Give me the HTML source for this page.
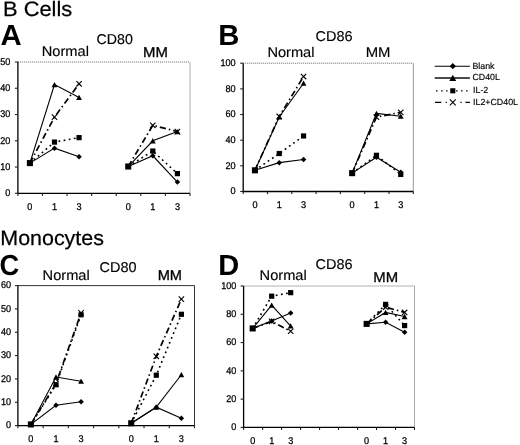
<!DOCTYPE html>
<html><head><meta charset="utf-8"><style>
html,body{margin:0;padding:0;background:#fff;}
body{width:520px;height:445px;overflow:hidden;}
svg{display:block;font-family:"Liberation Sans", sans-serif;fill:#000;text-rendering:geometricPrecision;will-change:transform;}
text{fill:#000;}
</style></head><body>
<svg width="520" height="445" viewBox="0 0 520 445">
<line x1="17.9" y1="62" x2="190" y2="62" stroke="#666" stroke-width="1" stroke-dasharray="1 1"/>
<line x1="190" y1="62" x2="190" y2="193.3" stroke="#aaa" stroke-width="1"/>
<path d="M17.9 62V193.3H190" stroke="#000" stroke-width="1.3" fill="none"/>
<line x1="14.9" y1="193.3" x2="17.9" y2="193.3" stroke="#222" stroke-width="1.1"/>
<text x="0" y="0" transform="translate(10.3 196.1) scale(0.93 1)" text-anchor="end" font-size="9.8" stroke="#000" stroke-width="0.28">0</text>
<line x1="14.9" y1="167.04" x2="17.9" y2="167.04" stroke="#222" stroke-width="1.1"/>
<text x="0" y="0" transform="translate(10.3 169.84) scale(0.93 1)" text-anchor="end" font-size="9.8" stroke="#000" stroke-width="0.28">10</text>
<line x1="14.9" y1="140.78" x2="17.9" y2="140.78" stroke="#222" stroke-width="1.1"/>
<text x="0" y="0" transform="translate(10.3 143.58) scale(0.93 1)" text-anchor="end" font-size="9.8" stroke="#000" stroke-width="0.28">20</text>
<line x1="14.9" y1="114.52" x2="17.9" y2="114.52" stroke="#222" stroke-width="1.1"/>
<text x="0" y="0" transform="translate(10.3 117.32) scale(0.93 1)" text-anchor="end" font-size="9.8" stroke="#000" stroke-width="0.28">30</text>
<line x1="14.9" y1="88.26" x2="17.9" y2="88.26" stroke="#222" stroke-width="1.1"/>
<text x="0" y="0" transform="translate(10.3 91.06) scale(0.93 1)" text-anchor="end" font-size="9.8" stroke="#000" stroke-width="0.28">40</text>
<line x1="14.9" y1="62" x2="17.9" y2="62" stroke="#222" stroke-width="1.1"/>
<text x="0" y="0" transform="translate(10.3 64.8) scale(0.93 1)" text-anchor="end" font-size="9.8" stroke="#000" stroke-width="0.28">50</text>
<line x1="17.9" y1="193.3" x2="17.9" y2="195.9" stroke="#222" stroke-width="1.1"/>
<line x1="42.49" y1="193.3" x2="42.49" y2="195.9" stroke="#222" stroke-width="1.1"/>
<line x1="67.07" y1="193.3" x2="67.07" y2="195.9" stroke="#222" stroke-width="1.1"/>
<line x1="91.66" y1="193.3" x2="91.66" y2="195.9" stroke="#222" stroke-width="1.1"/>
<line x1="116.24" y1="193.3" x2="116.24" y2="195.9" stroke="#222" stroke-width="1.1"/>
<line x1="140.83" y1="193.3" x2="140.83" y2="195.9" stroke="#222" stroke-width="1.1"/>
<line x1="165.41" y1="193.3" x2="165.41" y2="195.9" stroke="#222" stroke-width="1.1"/>
<line x1="190" y1="193.3" x2="190" y2="195.9" stroke="#222" stroke-width="1.1"/>
<text x="0" y="0" transform="translate(29.89 209.8) scale(0.93 1)" text-anchor="middle" font-size="9.8" stroke="#000" stroke-width="0.28">0</text>
<text x="0" y="0" transform="translate(54.48 209.8) scale(0.93 1)" text-anchor="middle" font-size="9.8" stroke="#000" stroke-width="0.28">1</text>
<text x="0" y="0" transform="translate(79.06 209.8) scale(0.93 1)" text-anchor="middle" font-size="9.8" stroke="#000" stroke-width="0.28">3</text>
<text x="0" y="0" transform="translate(128.24 209.8) scale(0.93 1)" text-anchor="middle" font-size="9.8" stroke="#000" stroke-width="0.28">0</text>
<text x="0" y="0" transform="translate(152.82 209.8) scale(0.93 1)" text-anchor="middle" font-size="9.8" stroke="#000" stroke-width="0.28">1</text>
<text x="0" y="0" transform="translate(177.41 209.8) scale(0.93 1)" text-anchor="middle" font-size="9.8" stroke="#000" stroke-width="0.28">3</text>
<path d="M29.89 163.1 L54.48 142.09 L79.06 137.63" stroke="#000" stroke-width="1.6" stroke-dasharray="1.8 3.4" fill="none"/>
<path d="M128.24 166.51 L152.82 151.02 L177.41 173.61" stroke="#000" stroke-width="1.6" stroke-dasharray="1.8 3.4" fill="none"/>
<path d="M29.89 163.1 L54.48 117.15 L79.06 83.8" stroke="#000" stroke-width="1.7" stroke-dasharray="6.3 3 1.5 3" fill="none"/>
<path d="M128.24 166.51 L152.82 125.29 L177.41 131.59" stroke="#000" stroke-width="1.7" stroke-dasharray="6.3 3 1.5 3" fill="none"/>
<path d="M29.89 163.1 L54.48 84.58 L79.06 97.45" stroke="#000" stroke-width="1.1" fill="none"/>
<path d="M128.24 166.51 L152.82 140.78 L177.41 131.59" stroke="#000" stroke-width="1.1" fill="none"/>
<path d="M29.89 163.1 L54.48 148.13 L79.06 156.8" stroke="#000" stroke-width="1.1" fill="none"/>
<path d="M128.24 166.51 L152.82 155.75 L177.41 182.01" stroke="#000" stroke-width="1.1" fill="none"/>
<path d="M51.78 114.45L57.18 119.85M51.78 119.85L57.18 114.45" stroke="#000" stroke-width="1.1" fill="none"/>
<path d="M76.36 81.1L81.76 86.5M76.36 86.5L81.76 81.1" stroke="#000" stroke-width="1.1" fill="none"/>
<path d="M150.12 122.59L155.52 127.99M150.12 127.99L155.52 122.59" stroke="#000" stroke-width="1.1" fill="none"/>
<path d="M174.71 128.89L180.11 134.29M174.71 134.29L180.11 128.89" stroke="#000" stroke-width="1.1" fill="none"/>
<path d="M54.48 145.38L57.23 148.13L54.48 150.88L51.73 148.13Z" fill="#000"/>
<path d="M79.06 154.05L81.81 156.8L79.06 159.55L76.31 156.8Z" fill="#000"/>
<path d="M152.82 153L155.57 155.75L152.82 158.5L150.07 155.75Z" fill="#000"/>
<path d="M177.41 179.26L180.16 182.01L177.41 184.76L174.66 182.01Z" fill="#000"/>
<path d="M54.48 81.88L57.38 87.18L51.58 87.18Z" fill="#000"/>
<path d="M79.06 94.75L81.96 100.05L76.16 100.05Z" fill="#000"/>
<path d="M152.82 138.08L155.72 143.38L149.92 143.38Z" fill="#000"/>
<path d="M177.41 128.89L180.31 134.19L174.51 134.19Z" fill="#000"/>
<rect x="26.85" y="160.06" width="6.08" height="6.08" fill="#000"/>
<rect x="51.88" y="139.49" width="5.2" height="5.2" fill="#000"/>
<rect x="76.46" y="135.03" width="5.2" height="5.2" fill="#000"/>
<rect x="125.19" y="163.47" width="6.08" height="6.08" fill="#000"/>
<rect x="150.22" y="148.42" width="5.2" height="5.2" fill="#000"/>
<rect x="174.81" y="171.01" width="5.2" height="5.2" fill="#000"/>
<line x1="243.2" y1="63.2" x2="413.3" y2="63.2" stroke="#666" stroke-width="1" stroke-dasharray="1 1"/>
<line x1="413.3" y1="63.2" x2="413.3" y2="191.5" stroke="#999" stroke-width="1"/>
<path d="M243.2 63.2V191.5H413.3" stroke="#000" stroke-width="1.3" fill="none"/>
<line x1="240.2" y1="191.5" x2="243.2" y2="191.5" stroke="#222" stroke-width="1.1"/>
<text x="0" y="0" transform="translate(235.6 194.3) scale(0.93 1)" text-anchor="end" font-size="9.8" stroke="#000" stroke-width="0.28">0</text>
<line x1="240.2" y1="165.84" x2="243.2" y2="165.84" stroke="#222" stroke-width="1.1"/>
<text x="0" y="0" transform="translate(235.6 168.64) scale(0.93 1)" text-anchor="end" font-size="9.8" stroke="#000" stroke-width="0.28">20</text>
<line x1="240.2" y1="140.18" x2="243.2" y2="140.18" stroke="#222" stroke-width="1.1"/>
<text x="0" y="0" transform="translate(235.6 142.98) scale(0.93 1)" text-anchor="end" font-size="9.8" stroke="#000" stroke-width="0.28">40</text>
<line x1="240.2" y1="114.52" x2="243.2" y2="114.52" stroke="#222" stroke-width="1.1"/>
<text x="0" y="0" transform="translate(235.6 117.32) scale(0.93 1)" text-anchor="end" font-size="9.8" stroke="#000" stroke-width="0.28">60</text>
<line x1="240.2" y1="88.86" x2="243.2" y2="88.86" stroke="#222" stroke-width="1.1"/>
<text x="0" y="0" transform="translate(235.6 91.66) scale(0.93 1)" text-anchor="end" font-size="9.8" stroke="#000" stroke-width="0.28">80</text>
<line x1="240.2" y1="63.2" x2="243.2" y2="63.2" stroke="#222" stroke-width="1.1"/>
<text x="0" y="0" transform="translate(235.6 66) scale(0.93 1)" text-anchor="end" font-size="9.8" stroke="#000" stroke-width="0.28">100</text>
<line x1="243.2" y1="191.5" x2="243.2" y2="194.1" stroke="#222" stroke-width="1.1"/>
<line x1="267.5" y1="191.5" x2="267.5" y2="194.1" stroke="#222" stroke-width="1.1"/>
<line x1="291.8" y1="191.5" x2="291.8" y2="194.1" stroke="#222" stroke-width="1.1"/>
<line x1="316.1" y1="191.5" x2="316.1" y2="194.1" stroke="#222" stroke-width="1.1"/>
<line x1="340.4" y1="191.5" x2="340.4" y2="194.1" stroke="#222" stroke-width="1.1"/>
<line x1="364.7" y1="191.5" x2="364.7" y2="194.1" stroke="#222" stroke-width="1.1"/>
<line x1="389" y1="191.5" x2="389" y2="194.1" stroke="#222" stroke-width="1.1"/>
<line x1="413.3" y1="191.5" x2="413.3" y2="194.1" stroke="#222" stroke-width="1.1"/>
<text x="0" y="0" transform="translate(254.95 207.8) scale(0.93 1)" text-anchor="middle" font-size="9.8" stroke="#000" stroke-width="0.28">0</text>
<text x="0" y="0" transform="translate(279.25 207.8) scale(0.93 1)" text-anchor="middle" font-size="9.8" stroke="#000" stroke-width="0.28">1</text>
<text x="0" y="0" transform="translate(303.55 207.8) scale(0.93 1)" text-anchor="middle" font-size="9.8" stroke="#000" stroke-width="0.28">3</text>
<text x="0" y="0" transform="translate(352.15 207.8) scale(0.93 1)" text-anchor="middle" font-size="9.8" stroke="#000" stroke-width="0.28">0</text>
<text x="0" y="0" transform="translate(376.45 207.8) scale(0.93 1)" text-anchor="middle" font-size="9.8" stroke="#000" stroke-width="0.28">1</text>
<text x="0" y="0" transform="translate(400.75 207.8) scale(0.93 1)" text-anchor="middle" font-size="9.8" stroke="#000" stroke-width="0.28">3</text>
<path d="M254.95 170.33 L279.25 153.52 L303.55 135.95" stroke="#000" stroke-width="1.6" stroke-dasharray="1.8 3.4" fill="none"/>
<path d="M352.15 173.15 L376.45 155.32 L400.75 174.44" stroke="#000" stroke-width="1.6" stroke-dasharray="1.8 3.4" fill="none"/>
<path d="M254.95 170.33 L279.25 116.44 L303.55 76.54" stroke="#000" stroke-width="1.7" stroke-dasharray="6.3 3 1.5 3" fill="none"/>
<path d="M352.15 173.15 L376.45 117.09 L400.75 112.34" stroke="#000" stroke-width="1.7" stroke-dasharray="6.3 3 1.5 3" fill="none"/>
<path d="M254.95 170.33 L279.25 116.96 L303.55 83.21" stroke="#000" stroke-width="1.1" fill="none"/>
<path d="M352.15 173.15 L376.45 113.37 L400.75 116.19" stroke="#000" stroke-width="1.1" fill="none"/>
<path d="M254.95 170.33 L279.25 162.63 L303.55 159.43" stroke="#000" stroke-width="1.1" fill="none"/>
<path d="M352.15 173.15 L376.45 157.24 L400.75 172.25" stroke="#000" stroke-width="1.1" fill="none"/>
<path d="M276.55 113.74L281.95 119.14M276.55 119.14L281.95 113.74" stroke="#000" stroke-width="1.1" fill="none"/>
<path d="M300.85 73.84L306.25 79.24M300.85 79.24L306.25 73.84" stroke="#000" stroke-width="1.1" fill="none"/>
<path d="M373.75 114.39L379.15 119.79M373.75 119.79L379.15 114.39" stroke="#000" stroke-width="1.1" fill="none"/>
<path d="M398.05 109.64L403.45 115.04M398.05 115.04L403.45 109.64" stroke="#000" stroke-width="1.1" fill="none"/>
<path d="M279.25 159.88L282 162.63L279.25 165.38L276.5 162.63Z" fill="#000"/>
<path d="M303.55 156.68L306.3 159.43L303.55 162.18L300.8 159.43Z" fill="#000"/>
<path d="M376.45 154.49L379.2 157.24L376.45 159.99L373.7 157.24Z" fill="#000"/>
<path d="M400.75 169.5L403.5 172.25L400.75 175L398 172.25Z" fill="#000"/>
<path d="M279.25 114.26L282.15 119.56L276.35 119.56Z" fill="#000"/>
<path d="M303.55 80.51L306.45 85.81L300.65 85.81Z" fill="#000"/>
<path d="M376.45 110.67L379.35 115.97L373.55 115.97Z" fill="#000"/>
<path d="M400.75 113.49L403.65 118.79L397.85 118.79Z" fill="#000"/>
<rect x="251.91" y="167.29" width="6.08" height="6.08" fill="#000"/>
<rect x="276.65" y="150.92" width="5.2" height="5.2" fill="#000"/>
<rect x="300.95" y="133.35" width="5.2" height="5.2" fill="#000"/>
<rect x="349.11" y="170.11" width="6.08" height="6.08" fill="#000"/>
<rect x="373.85" y="152.72" width="5.2" height="5.2" fill="#000"/>
<rect x="398.15" y="171.84" width="5.2" height="5.2" fill="#000"/>
<line x1="17.9" y1="285.6" x2="194.5" y2="285.6" stroke="#333" stroke-width="1"/>
<line x1="194.5" y1="285.6" x2="194.5" y2="425.6" stroke="#333" stroke-width="1"/>
<path d="M17.9 285.6V425.6H194.5" stroke="#000" stroke-width="1.3" fill="none"/>
<line x1="14.9" y1="425.6" x2="17.9" y2="425.6" stroke="#222" stroke-width="1.1"/>
<text x="0" y="0" transform="translate(11.1 428.4) scale(0.93 1)" text-anchor="end" font-size="9.8" stroke="#000" stroke-width="0.28">0</text>
<line x1="14.9" y1="402.27" x2="17.9" y2="402.27" stroke="#222" stroke-width="1.1"/>
<text x="0" y="0" transform="translate(11.1 405.07) scale(0.93 1)" text-anchor="end" font-size="9.8" stroke="#000" stroke-width="0.28">10</text>
<line x1="14.9" y1="378.93" x2="17.9" y2="378.93" stroke="#222" stroke-width="1.1"/>
<text x="0" y="0" transform="translate(11.1 381.73) scale(0.93 1)" text-anchor="end" font-size="9.8" stroke="#000" stroke-width="0.28">20</text>
<line x1="14.9" y1="355.6" x2="17.9" y2="355.6" stroke="#222" stroke-width="1.1"/>
<text x="0" y="0" transform="translate(11.1 358.4) scale(0.93 1)" text-anchor="end" font-size="9.8" stroke="#000" stroke-width="0.28">30</text>
<line x1="14.9" y1="332.27" x2="17.9" y2="332.27" stroke="#222" stroke-width="1.1"/>
<text x="0" y="0" transform="translate(11.1 335.07) scale(0.93 1)" text-anchor="end" font-size="9.8" stroke="#000" stroke-width="0.28">40</text>
<line x1="14.9" y1="308.93" x2="17.9" y2="308.93" stroke="#222" stroke-width="1.1"/>
<text x="0" y="0" transform="translate(11.1 311.73) scale(0.93 1)" text-anchor="end" font-size="9.8" stroke="#000" stroke-width="0.28">50</text>
<line x1="14.9" y1="285.6" x2="17.9" y2="285.6" stroke="#222" stroke-width="1.1"/>
<text x="0" y="0" transform="translate(11.1 288.4) scale(0.93 1)" text-anchor="end" font-size="9.8" stroke="#000" stroke-width="0.28">60</text>
<line x1="17.9" y1="425.6" x2="17.9" y2="428.2" stroke="#222" stroke-width="1.1"/>
<line x1="43.13" y1="425.6" x2="43.13" y2="428.2" stroke="#222" stroke-width="1.1"/>
<line x1="68.36" y1="425.6" x2="68.36" y2="428.2" stroke="#222" stroke-width="1.1"/>
<line x1="93.59" y1="425.6" x2="93.59" y2="428.2" stroke="#222" stroke-width="1.1"/>
<line x1="118.81" y1="425.6" x2="118.81" y2="428.2" stroke="#222" stroke-width="1.1"/>
<line x1="144.04" y1="425.6" x2="144.04" y2="428.2" stroke="#222" stroke-width="1.1"/>
<line x1="169.27" y1="425.6" x2="169.27" y2="428.2" stroke="#222" stroke-width="1.1"/>
<line x1="194.5" y1="425.6" x2="194.5" y2="428.2" stroke="#222" stroke-width="1.1"/>
<text x="0" y="0" transform="translate(30.9 442) scale(0.93 1)" text-anchor="middle" font-size="9.8" stroke="#000" stroke-width="0.28">0</text>
<text x="0" y="0" transform="translate(55.98 442) scale(0.93 1)" text-anchor="middle" font-size="9.8" stroke="#000" stroke-width="0.28">1</text>
<text x="0" y="0" transform="translate(81.06 442) scale(0.93 1)" text-anchor="middle" font-size="9.8" stroke="#000" stroke-width="0.28">3</text>
<text x="0" y="0" transform="translate(131.22 442) scale(0.93 1)" text-anchor="middle" font-size="9.8" stroke="#000" stroke-width="0.28">0</text>
<text x="0" y="0" transform="translate(156.3 442) scale(0.93 1)" text-anchor="middle" font-size="9.8" stroke="#000" stroke-width="0.28">1</text>
<text x="0" y="0" transform="translate(181.38 442) scale(0.93 1)" text-anchor="middle" font-size="9.8" stroke="#000" stroke-width="0.28">3</text>
<path d="M30.9 424.43 L55.98 384.77 L81.06 314.77" stroke="#000" stroke-width="1.6" stroke-dasharray="1.8 3.4" fill="none"/>
<path d="M131.22 423.27 L156.3 375.2 L181.38 314.3" stroke="#000" stroke-width="1.6" stroke-dasharray="1.8 3.4" fill="none"/>
<path d="M30.9 424.43 L55.98 383.6 L81.06 312.9" stroke="#000" stroke-width="1.7" stroke-dasharray="6.3 3 1.5 3" fill="none"/>
<path d="M131.22 423.27 L156.3 356.3 L181.38 299.13" stroke="#000" stroke-width="1.7" stroke-dasharray="6.3 3 1.5 3" fill="none"/>
<path d="M30.9 424.43 L55.98 377.07 L81.06 381.27" stroke="#000" stroke-width="1.1" fill="none"/>
<path d="M131.22 423.27 L156.3 407.17 L181.38 374.73" stroke="#000" stroke-width="1.1" fill="none"/>
<path d="M30.9 424.43 L55.98 405.3 L81.06 401.8" stroke="#000" stroke-width="1.1" fill="none"/>
<path d="M131.22 423.27 L156.3 407.17 L181.38 418.37" stroke="#000" stroke-width="1.1" fill="none"/>
<path d="M53.28 380.9L58.68 386.3M53.28 386.3L58.68 380.9" stroke="#000" stroke-width="1.1" fill="none"/>
<path d="M78.36 310.2L83.76 315.6M78.36 315.6L83.76 310.2" stroke="#000" stroke-width="1.1" fill="none"/>
<path d="M153.6 353.6L159 359M153.6 359L159 353.6" stroke="#000" stroke-width="1.1" fill="none"/>
<path d="M178.68 296.43L184.08 301.83M178.68 301.83L184.08 296.43" stroke="#000" stroke-width="1.1" fill="none"/>
<path d="M55.98 402.55L58.73 405.3L55.98 408.05L53.23 405.3Z" fill="#000"/>
<path d="M81.06 399.05L83.81 401.8L81.06 404.55L78.31 401.8Z" fill="#000"/>
<path d="M156.3 404.42L159.05 407.17L156.3 409.92L153.55 407.17Z" fill="#000"/>
<path d="M181.38 415.62L184.13 418.37L181.38 421.12L178.63 418.37Z" fill="#000"/>
<path d="M55.98 374.37L58.88 379.67L53.08 379.67Z" fill="#000"/>
<path d="M81.06 378.57L83.96 383.87L78.16 383.87Z" fill="#000"/>
<path d="M156.3 404.47L159.2 409.77L153.4 409.77Z" fill="#000"/>
<path d="M181.38 372.03L184.28 377.33L178.48 377.33Z" fill="#000"/>
<rect x="27.86" y="421.39" width="6.08" height="6.08" fill="#000"/>
<rect x="53.38" y="382.17" width="5.2" height="5.2" fill="#000"/>
<rect x="78.46" y="312.17" width="5.2" height="5.2" fill="#000"/>
<rect x="128.18" y="420.22" width="6.08" height="6.08" fill="#000"/>
<rect x="153.7" y="372.6" width="5.2" height="5.2" fill="#000"/>
<rect x="178.78" y="311.7" width="5.2" height="5.2" fill="#000"/>
<line x1="243.6" y1="286" x2="414.5" y2="286" stroke="#666" stroke-width="1" stroke-dasharray="1 1"/>
<line x1="414.5" y1="286" x2="414.5" y2="427.4" stroke="#aaa" stroke-width="1"/>
<path d="M243.6 286V427.4H414.5" stroke="#000" stroke-width="1.3" fill="none"/>
<line x1="240.6" y1="427.4" x2="243.6" y2="427.4" stroke="#222" stroke-width="1.1"/>
<text x="0" y="0" transform="translate(236.4 430.2) scale(0.93 1)" text-anchor="end" font-size="9.8" stroke="#000" stroke-width="0.28">0</text>
<line x1="240.6" y1="399.12" x2="243.6" y2="399.12" stroke="#222" stroke-width="1.1"/>
<text x="0" y="0" transform="translate(236.4 401.92) scale(0.93 1)" text-anchor="end" font-size="9.8" stroke="#000" stroke-width="0.28">20</text>
<line x1="240.6" y1="370.84" x2="243.6" y2="370.84" stroke="#222" stroke-width="1.1"/>
<text x="0" y="0" transform="translate(236.4 373.64) scale(0.93 1)" text-anchor="end" font-size="9.8" stroke="#000" stroke-width="0.28">40</text>
<line x1="240.6" y1="342.56" x2="243.6" y2="342.56" stroke="#222" stroke-width="1.1"/>
<text x="0" y="0" transform="translate(236.4 345.36) scale(0.93 1)" text-anchor="end" font-size="9.8" stroke="#000" stroke-width="0.28">60</text>
<line x1="240.6" y1="314.28" x2="243.6" y2="314.28" stroke="#222" stroke-width="1.1"/>
<text x="0" y="0" transform="translate(236.4 317.08) scale(0.93 1)" text-anchor="end" font-size="9.8" stroke="#000" stroke-width="0.28">80</text>
<line x1="240.6" y1="286" x2="243.6" y2="286" stroke="#222" stroke-width="1.1"/>
<text x="0" y="0" transform="translate(236.4 288.8) scale(0.93 1)" text-anchor="end" font-size="9.8" stroke="#000" stroke-width="0.28">100</text>
<line x1="243.6" y1="427.4" x2="243.6" y2="430" stroke="#222" stroke-width="1.1"/>
<line x1="262.59" y1="427.4" x2="262.59" y2="430" stroke="#222" stroke-width="1.1"/>
<line x1="281.58" y1="427.4" x2="281.58" y2="430" stroke="#222" stroke-width="1.1"/>
<line x1="300.57" y1="427.4" x2="300.57" y2="430" stroke="#222" stroke-width="1.1"/>
<line x1="319.56" y1="427.4" x2="319.56" y2="430" stroke="#222" stroke-width="1.1"/>
<line x1="338.54" y1="427.4" x2="338.54" y2="430" stroke="#222" stroke-width="1.1"/>
<line x1="357.53" y1="427.4" x2="357.53" y2="430" stroke="#222" stroke-width="1.1"/>
<line x1="376.52" y1="427.4" x2="376.52" y2="430" stroke="#222" stroke-width="1.1"/>
<line x1="395.51" y1="427.4" x2="395.51" y2="430" stroke="#222" stroke-width="1.1"/>
<line x1="414.5" y1="427.4" x2="414.5" y2="430" stroke="#222" stroke-width="1.1"/>
<text x="0" y="0" transform="translate(252.69 443.8) scale(0.93 1)" text-anchor="middle" font-size="9.8" stroke="#000" stroke-width="0.28">0</text>
<text x="0" y="0" transform="translate(271.68 443.8) scale(0.93 1)" text-anchor="middle" font-size="9.8" stroke="#000" stroke-width="0.28">1</text>
<text x="0" y="0" transform="translate(290.67 443.8) scale(0.93 1)" text-anchor="middle" font-size="9.8" stroke="#000" stroke-width="0.28">3</text>
<text x="0" y="0" transform="translate(366.63 443.8) scale(0.93 1)" text-anchor="middle" font-size="9.8" stroke="#000" stroke-width="0.28">0</text>
<text x="0" y="0" transform="translate(385.62 443.8) scale(0.93 1)" text-anchor="middle" font-size="9.8" stroke="#000" stroke-width="0.28">1</text>
<text x="0" y="0" transform="translate(404.61 443.8) scale(0.93 1)" text-anchor="middle" font-size="9.8" stroke="#000" stroke-width="0.28">3</text>
<path d="M252.69 328.42 L271.68 296.18 L290.67 292.65" stroke="#000" stroke-width="1.6" stroke-dasharray="1.8 3.4" fill="none"/>
<path d="M366.63 323.9 L385.62 304.38 L404.61 325.59" stroke="#000" stroke-width="1.6" stroke-dasharray="1.8 3.4" fill="none"/>
<path d="M252.69 328.42 L271.68 321.35 L290.67 331.25" stroke="#000" stroke-width="1.7" stroke-dasharray="6.3 3 1.5 3" fill="none"/>
<path d="M366.63 323.9 L385.62 307.21 L404.61 312.44" stroke="#000" stroke-width="1.7" stroke-dasharray="6.3 3 1.5 3" fill="none"/>
<path d="M252.69 328.42 L271.68 305.09 L290.67 326.02" stroke="#000" stroke-width="1.1" fill="none"/>
<path d="M366.63 323.9 L385.62 312.44 L404.61 316.54" stroke="#000" stroke-width="1.1" fill="none"/>
<path d="M252.69 328.42 L271.68 320.93 L290.67 313.01" stroke="#000" stroke-width="1.1" fill="none"/>
<path d="M366.63 323.9 L385.62 322.2 L404.61 332.24" stroke="#000" stroke-width="1.1" fill="none"/>
<path d="M268.98 318.65L274.38 324.05M268.98 324.05L274.38 318.65" stroke="#000" stroke-width="1.1" fill="none"/>
<path d="M287.97 328.55L293.37 333.95M287.97 333.95L293.37 328.55" stroke="#000" stroke-width="1.1" fill="none"/>
<path d="M382.92 304.51L388.32 309.91M382.92 309.91L388.32 304.51" stroke="#000" stroke-width="1.1" fill="none"/>
<path d="M401.91 309.74L407.31 315.14M401.91 315.14L407.31 309.74" stroke="#000" stroke-width="1.1" fill="none"/>
<path d="M271.68 318.18L274.43 320.93L271.68 323.68L268.93 320.93Z" fill="#000"/>
<path d="M290.67 310.26L293.42 313.01L290.67 315.76L287.92 313.01Z" fill="#000"/>
<path d="M385.62 319.45L388.37 322.2L385.62 324.95L382.87 322.2Z" fill="#000"/>
<path d="M404.61 329.49L407.36 332.24L404.61 334.99L401.86 332.24Z" fill="#000"/>
<path d="M271.68 302.39L274.58 307.69L268.78 307.69Z" fill="#000"/>
<path d="M290.67 323.32L293.57 328.62L287.77 328.62Z" fill="#000"/>
<path d="M385.62 309.74L388.52 315.04L382.72 315.04Z" fill="#000"/>
<path d="M404.61 313.84L407.51 319.14L401.71 319.14Z" fill="#000"/>
<rect x="249.65" y="325.38" width="6.08" height="6.08" fill="#000"/>
<rect x="269.08" y="293.58" width="5.2" height="5.2" fill="#000"/>
<rect x="288.07" y="290.05" width="5.2" height="5.2" fill="#000"/>
<rect x="363.59" y="320.85" width="6.08" height="6.08" fill="#000"/>
<rect x="383.02" y="301.78" width="5.2" height="5.2" fill="#000"/>
<rect x="402.01" y="322.99" width="5.2" height="5.2" fill="#000"/>
<path d="M434.7 66.2H469.9" stroke="#000" stroke-width="1.1" fill="none"/>
<path d="M452.8 63.04L455.96 66.2L452.8 69.36L449.64 66.2Z" fill="#000"/>
<text x="472.4" y="69" font-size="8.85" stroke="#000" stroke-width="0.15">Blank</text>
<path d="M434.7 78H469.9" stroke="#111" stroke-width="1.3" fill="none"/>
<path d="M452.8 74.76L456.28 81.12L449.32 81.12Z" fill="#000"/>
<text x="472.4" y="80.4" font-size="8.85" stroke="#000" stroke-width="0.15">CD40L</text>
<path d="M434.7 90.8H469.9" stroke="#000" stroke-width="1.3" stroke-dasharray="1.5 3.5" stroke-dashoffset="3.65" fill="none"/>
<rect x="450.25" y="88.25" width="5.1" height="5.1" fill="#000"/>
<text x="473" y="92.8" font-size="8.85" stroke="#000" stroke-width="0.15">IL-2</text>
<path d="M435 102.4H441.3M445.6 102.4H446.9M460.4 102.4H461.7M465.4 102.4H470" stroke="#000" stroke-width="1.2" fill="none"/>
<path d="M449.88 99.48L455.72 105.32M449.88 105.32L455.72 99.48" stroke="#000" stroke-width="1.1" fill="none"/>
<text x="473" y="104.9" font-size="8.85" stroke="#000" stroke-width="0.15">IL2+CD40L</text>
<text x="0" y="0" font-size="20.8" font-weight="normal" stroke="#000" stroke-width="0.25" transform="translate(3 15.8) scale(1.05 1)">B Cells</text>
<text x="0" y="0" font-size="20.8" font-weight="normal" stroke="#000" stroke-width="0.25" transform="translate(0.3 245) scale(1.03 1)">Monocytes</text>
<text x="0" y="0" font-size="29" font-weight="bold" transform="translate(0.4 45) scale(1.01 1)">A</text>
<text x="0" y="0" font-size="29" font-weight="bold" transform="translate(218.3 45) scale(1.01 1)">B</text>
<text x="0" y="0" font-size="29" font-weight="bold" transform="translate(-0.4 275) scale(0.94 1)">C</text>
<text x="218.3" y="275" font-size="29" font-weight="bold">D</text>
<text x="0" y="0" font-size="14.2" font-weight="normal" stroke="#000" stroke-width="0.15" transform="translate(41.8 55.7) scale(1.03 1)">Normal</text>
<text x="96.5" y="43.7" font-size="14.2" font-weight="normal" stroke="#000" stroke-width="0.15">CD80</text>
<text x="0" y="0" font-size="14.2" font-weight="normal" stroke="#000" stroke-width="0.3" transform="translate(143 56.7) scale(1.05 1)">MM</text>
<text x="0" y="0" font-size="14.2" font-weight="normal" stroke="#000" stroke-width="0.15" transform="translate(267.4 57.3) scale(1.03 1)">Normal</text>
<text x="0" y="0" font-size="14.2" font-weight="normal" stroke="#000" stroke-width="0.15" transform="translate(315.6 40.8) scale(1.02 1)">CD86</text>
<text x="0" y="0" font-size="14.2" font-weight="normal" stroke="#000" stroke-width="0.15" transform="translate(365.7 57.3) scale(1.05 1)">MM</text>
<text x="0" y="0" font-size="14.2" font-weight="normal" stroke="#000" stroke-width="0.15" transform="translate(42.6 279.7) scale(1.03 1)">Normal</text>
<text x="0" y="0" font-size="14.2" font-weight="normal" stroke="#000" stroke-width="0.15" transform="translate(99.6 271.9) scale(1.02 1)">CD80</text>
<text x="0" y="0" font-size="14.2" font-weight="normal" stroke="#000" stroke-width="0.32" transform="translate(157.7 280.4) scale(1.03 1)">MM</text>
<text x="0" y="0" font-size="14.2" font-weight="normal" stroke="#000" stroke-width="0.15" transform="translate(259.6 279.9) scale(1.03 1)">Normal</text>
<text x="0" y="0" font-size="14.2" font-weight="normal" stroke="#000" stroke-width="0.15" transform="translate(315.6 268.9) scale(1.02 1)">CD86</text>
<text x="0" y="0" font-size="14.2" font-weight="normal" stroke="#000" stroke-width="0.28" transform="translate(373.3 281.5) scale(1.05 1)">MM</text>
</svg>
</body></html>
